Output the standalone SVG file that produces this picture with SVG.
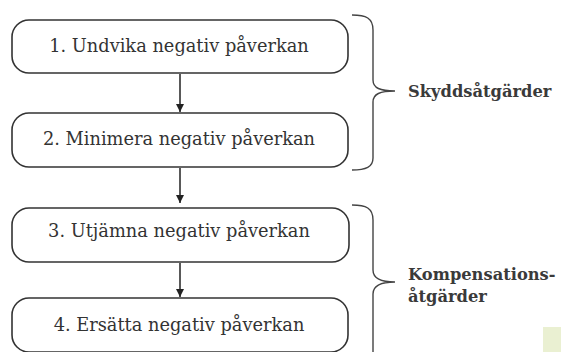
<svg xmlns="http://www.w3.org/2000/svg" width="561" height="352" viewBox="0 0 561 352">
<style>
.box{fill:#fff;stroke:#333;stroke-width:1.6}
.t{font-family:"DejaVu Serif",serif;font-size:17.8px;fill:#333;text-anchor:middle}
.lab{font-family:"DejaVu Serif",serif;font-size:16.3px;font-weight:bold;fill:#3a3a3a}
.brace{fill:none;stroke:#444;stroke-width:1.4}
.conn{stroke:#222;stroke-width:1.5;fill:none;marker-end:url(#ah)}
</style>
<defs>
<marker id="ah" markerWidth="10" markerHeight="10" refX="9" refY="5" orient="auto" markerUnits="userSpaceOnUse">
<path d="M1,1 L9,5 L1,9 z" fill="#222"/>
</marker>
</defs>
<rect width="561" height="352" fill="#fff"/>
<g id="node1"><rect class="box" x="12" y="20" width="336" height="53" rx="17"/><text class="t" x="179" y="52">1. Undvika negativ påverkan</text></g>
<g id="node2"><rect class="box" x="12" y="113" width="336" height="54" rx="17"/><text class="t" x="179" y="145">2. Minimera negativ påverkan</text></g>
<g id="node3"><rect class="box" x="12" y="208" width="337" height="54" rx="17"/><text class="t" x="179" y="237">3. Utjämna negativ påverkan</text></g>
<g id="node4"><rect class="box" x="12" y="298" width="336" height="54" rx="17"/><text class="t" x="179" y="331">4. Ersätta negativ påverkan</text></g>
<g id="connectors">
<line class="conn" x1="180" y1="74" x2="180" y2="112"/>
<line class="conn" x1="180" y1="168" x2="180" y2="203"/>
<line class="conn" x1="180" y1="263" x2="180" y2="297"/>
</g>
<g id="brace1">
<path class="brace" d="M352,15 C366,15 373,18 373,30 L373,80 C373,88 380,91 395,91 C380,91 373,94 373,102 L373,158 C373,167 366,170 352,170"/>
<text class="lab" x="408" y="97">Skyddsåtgärder</text>
</g>
<g id="brace2">
<path class="brace" d="M352,205 C366,205 373,208 373,220 L373,270 C373,278 380,282 395,282 C380,282 373,286 373,294 L373,360"/>
<text class="lab" x="408" y="280">Kompensations-</text>
<text class="lab" x="408" y="302">åtgärder</text>
</g>
<rect x="543" y="327" width="18" height="25" fill="#eaf0d2"/>
</svg>
